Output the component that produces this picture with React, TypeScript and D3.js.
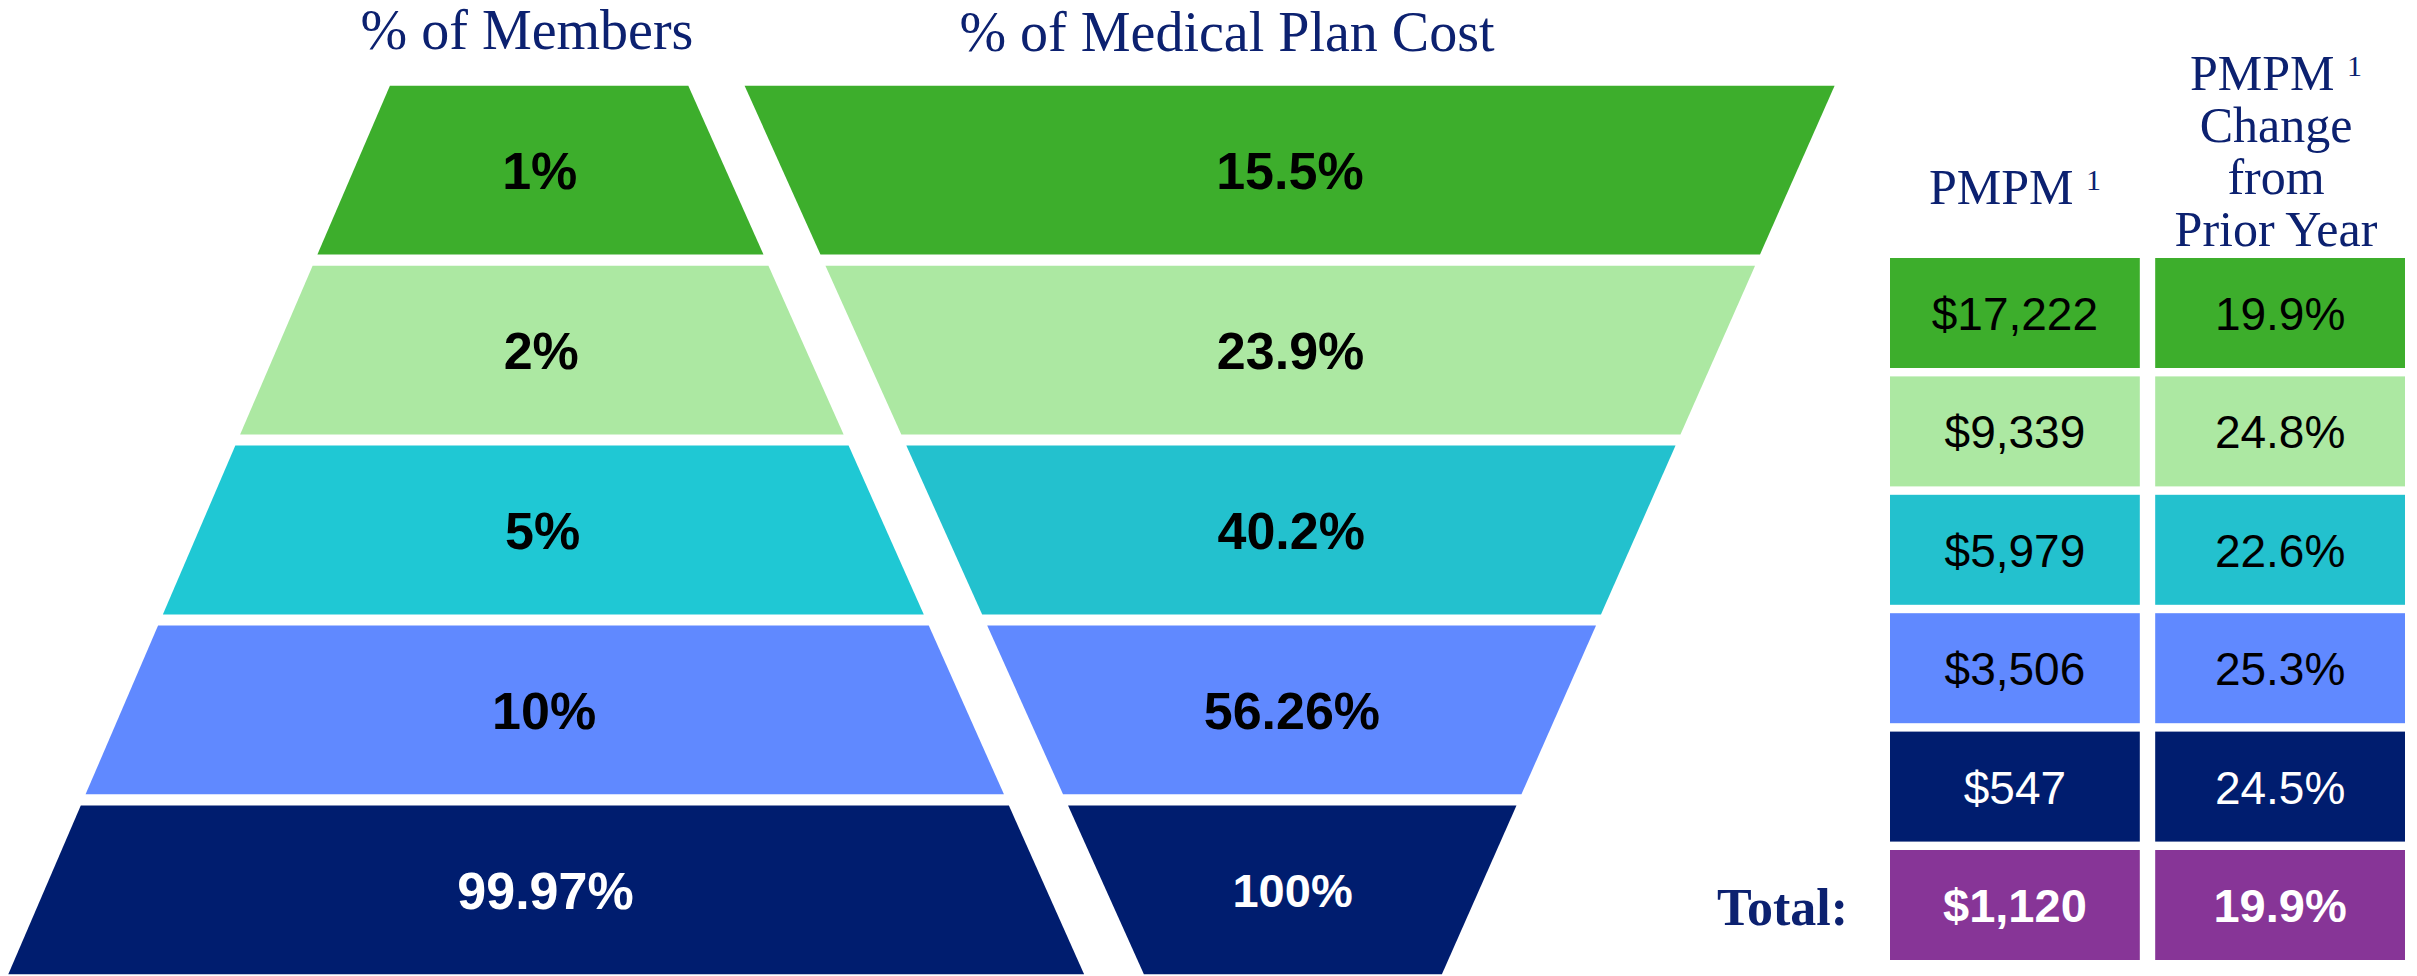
import React from "react";
import * as d3 from "d3";

const tiers = ["Top 1%", "Top 2%", "Top 5%", "Top 10%", "All"];
const memberLabels = ["1%", "2%", "5%", "10%", "99.97%"];
const costLabels = ["15.5%", "23.9%", "40.2%", "56.26%", "100%"];
const pmpmLabels = ["$17,222", "$9,339", "$5,979", "$3,506", "$547"];
const changeLabels = ["19.9%", "24.8%", "22.6%", "25.3%", "24.5%"];
const totalPmpm = "$1,120";
const totalChange = "19.9%";

const memberColors = ["#3DAE2C", "#ACE8A2", "#1FC8D4", "#6089FF", "#001D6F"];
const costColors = ["#3DAE2C", "#ACE8A2", "#23C1CE", "#6089FF", "#001D6F"];
const textColors = ["#000", "#000", "#000", "#000", "#fff"];
const totalColor = "#873597";
const navy = "#0C2170";

const W = 2417;
const H = 976;

const FTOP = 85.7;
const FBOT = 974.3;

const yBand = d3.scaleBand<string>().domain(tiers).range([FTOP, FBOT]).paddingInner(0.062);
const tableRows = [...tiers, "Total"];
const yTable = d3.scaleBand<string>().domain(tableRows).range([258, 960]).paddingInner(0.071);
const xTable = d3.scaleBand<string>().domain(["pmpm", "change"]).range([1890, 2405]).paddingInner(0.058);

const memHalf = d3.scaleLinear().domain([FTOP, FBOT]).range([149.2, 537.9]);
const memCx = d3.scaleLinear().domain([FTOP, FBOT]).range([539.1, 546.2]);
const costHalf = d3.scaleLinear().domain([FTOP, FBOT]).range([545, 149]);
const costCx = d3.scaleLinear().domain([FTOP, FBOT]).range([1289.6, 1292.9]);

function trap(y0: number, y1: number, half: d3.ScaleLinear<number, number>, cx: d3.ScaleLinear<number, number>) {
  const pts: [number, number][] = [
    [cx(y0) - half(y0), y0],
    [cx(y0) + half(y0), y0],
    [cx(y1) + half(y1), y1],
    [cx(y1) - half(y1), y1],
  ];
  return d3.line()(pts) + "Z";
}

const sans = "'Liberation Sans', Arial, sans-serif";
const serif = "'Liberation Serif', 'Times New Roman', serif";

export default function App() {
  const bw = yBand.bandwidth();
  return (
    <svg width={W} height={H} style={{ position: "absolute", left: 0, top: 0, display: "block", background: "#fff" }}>
      <text x={527} y={49} textAnchor="middle" fontFamily={serif} fontSize={56} fill={navy}>% of Members</text>
      <text x={1227} y={51} textAnchor="middle" fontFamily={serif} fontSize={56} fill={navy}>% of Medical Plan Cost</text>

      {tiers.map((t, i) => {
        const y0 = yBand(t)!;
        const y1 = y0 + bw;
        const cy = (y0 + y1) / 2;
        const costFs = costLabels[i] === "100%" ? 47 : 52;
        return (
          <g key={t}>
            <path d={trap(y0, y1, memHalf, memCx)} fill={memberColors[i]} />
            <text x={memCx(cy)} y={cy + 0.36 * 52} textAnchor="middle" fontFamily={sans} fontWeight="bold" fontSize={52} fill={textColors[i]}>{memberLabels[i]}</text>
            <path d={trap(y0, y1, costHalf, costCx)} fill={costColors[i]} />
            <text x={costCx(cy)} y={cy + 0.36 * costFs} textAnchor="middle" fontFamily={sans} fontWeight="bold" fontSize={costFs} fill={textColors[i]}>{costLabels[i]}</text>
          </g>
        );
      })}

      <text x={xTable("pmpm")! + xTable.bandwidth() / 2} y={204} textAnchor="middle" fontFamily={serif} fontSize={50} fill={navy}>
        PMPM <tspan fontSize={30} dy={-14}>1</tspan>
      </text>
      <g fontFamily={serif} fontSize={50} fill={navy} textAnchor="middle">
        <text x={2276} y={90}>PMPM <tspan fontSize={30} dy={-14}>1</tspan></text>
        <text x={2276} y={142}>Change</text>
        <text x={2276} y={194}>from</text>
        <text x={2276} y={246}>Prior Year</text>
      </g>

      {tableRows.map((r, i) => {
        const y0 = yTable(r)!;
        const h = yTable.bandwidth();
        const cy = y0 + h / 2;
        const isTotal = r === "Total";
        const fill = isTotal ? totalColor : costColors[i];
        const tc = isTotal ? "#fff" : textColors[i];
        const fs = isTotal ? 47 : 46;
        const cells = [
          { k: "pmpm", v: isTotal ? totalPmpm : pmpmLabels[i] },
          { k: "change", v: isTotal ? totalChange : changeLabels[i] },
        ];
        return (
          <g key={r}>
            {cells.map((c) => (
              <g key={c.k}>
                <rect x={xTable(c.k)!} y={y0} width={xTable.bandwidth()} height={h} fill={fill} />
                <text x={xTable(c.k)! + xTable.bandwidth() / 2} y={cy + 0.37 * fs} textAnchor="middle" fontFamily={sans} fontWeight={isTotal ? "bold" : "normal"} fontSize={fs} fill={tc}>{c.v}</text>
              </g>
            ))}
          </g>
        );
      })}
      <text x={1848} y={925} textAnchor="end" fontFamily={serif} fontWeight="bold" fontSize={52} fill={navy}>Total:</text>
    </svg>
  );
}
